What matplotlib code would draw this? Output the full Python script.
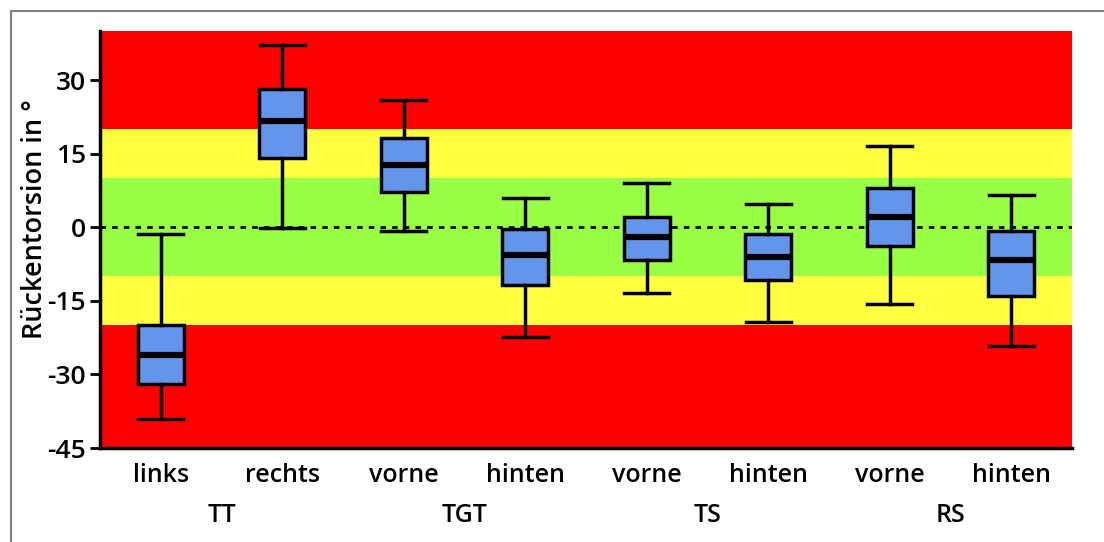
import matplotlib
matplotlib.use("Agg")
import matplotlib.pyplot as plt
from matplotlib.patches import Rectangle
from matplotlib.transforms import blended_transform_factory

plt.rcParams['font.family'] = ['Open Sans', 'DejaVu Sans']

# data
labels = ["links", "rechts", "vorne", "hinten", "vorne", "hinten", "vorne", "hinten"]
groups = ["TT", "TGT", "TS", "RS"]
whislo = [-39.0, -0.2, -0.8, -22.4, -13.5, -19.4, -15.7, -24.3]
q1 = [-32.0, 14.1, 7.1, -11.8, -6.7, -10.8, -3.9, -14.1]
med = [-26.1, 21.6, 12.7, -5.7, -2.0, -6.1, 2.0, -6.7]
q3 = [-20.0, 28.1, 18.2, -0.4, 2.0, -1.4, 8.0, -0.8]
whishi = [-1.4, 37.1, 25.9, 5.9, 9.0, 4.7, 16.5, 6.5]
yticks = [-45, -30, -15, 0, 15, 30]

fig = plt.figure(figsize=(11.04, 5.42), dpi=100)
ax = fig.add_axes([100/1104, 94/542, 972/1104, 417/542])

# background bands
ax.axhspan(20, 40, color="#ff0000", lw=0, zorder=0)
ax.axhspan(10, 20, color="#ffff40", lw=0, zorder=0)
ax.axhspan(-10, 10, color="#99ff44", lw=0, zorder=0)
ax.axhspan(-20, -10, color="#ffff40", lw=0, zorder=0)
ax.axhspan(-45, -20, color="#ff0000", lw=0, zorder=0)
ax.axhline(0, color="black", lw=2, ls=(0, (2, 2.2)), zorder=1)

stats = []
for i in range(len(labels)):
    stats.append(dict(whislo=whislo[i], q1=q1[i], med=med[i], q3=q3[i],
                      whishi=whishi[i], fliers=[]))
pos = list(range(1, len(labels) + 1))
ax.bxp(stats, positions=pos, widths=0.38, patch_artist=True, showfliers=False,
       boxprops=dict(facecolor="#6495ed", edgecolor="black", linewidth=2.5),
       medianprops=dict(color="black", linewidth=4.5),
       whiskerprops=dict(color="black", linewidth=2.5),
       capprops=dict(color="black", linewidth=2.5),
       capwidths=0.37, zorder=3)

ax.set_xlim(0.5, 8.5)
ax.set_ylim(-45, 40)
ax.set_yticks(yticks)
ax.set_yticklabels([str(t) for t in yticks], fontsize=19, fontweight="semibold")
ax.set_xticks([])
ax.tick_params(axis="y", direction="out", length=7, width=2, pad=3)
for s in ["top", "right"]:
    ax.spines[s].set_visible(False)
for s in ["left", "bottom"]:
    ax.spines[s].set_linewidth(2.5)
ax.set_ylabel("Rückentorsion in °", fontsize=19.5, fontweight="semibold", va="center")
ax.yaxis.set_label_coords(-0.067, 0.55)

tr = blended_transform_factory(ax.transData, fig.transFigure)
for p, lab in zip(pos, labels):
    ax.text(p, 1 - 476/542, lab, transform=tr, ha="center", va="center",
            fontsize=18, fontweight="semibold")
for k, g in enumerate(groups):
    ax.text(2 * k + 1.5, 1 - 516/542, g, transform=tr, ha="center", va="center",
            fontsize=18, fontweight="semibold")

# outer frame
fig.patches.append(Rectangle((11/1104, -0.1), 1.2, 1.1 - 11/542, transform=fig.transFigure,
                             fill=False, edgecolor="#808080", lw=1.5))

fig.savefig("out.png", dpi=100)
